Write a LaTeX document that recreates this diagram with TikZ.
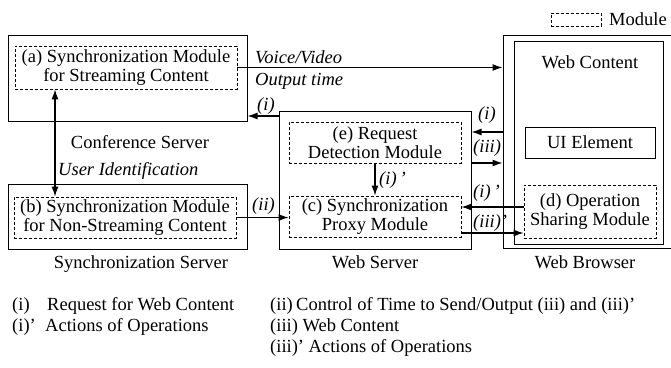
\documentclass[tikz,border=0pt]{standalone}
\usepackage{fontspec}
\setmainfont{Liberation Serif}
\newfontfamily\timesfont{Liberation Serif}
\usetikzlibrary{arrows.meta}
\newcommand{\basefont}{\timesfont\fontsize{18.5}{19.5}\selectfont}
\tikzset{
  solidbox/.style={draw, line width=1pt, inner sep=0pt},
  modbox/.style={draw, dash pattern=on 3pt off 2pt, line width=0.8pt, inner sep=0pt, align=center},
  arr/.style={-{Latex[length=10pt,width=7pt]}, line width=1.2pt},
  darr/.style={{Latex[length=10pt,width=7pt]}-{Latex[length=10pt,width=7pt]}, line width=1.2pt},
  lab/.style={font=\basefont\itshape, inner sep=0pt, anchor=base west},
  txt/.style={inner sep=0pt, anchor=base},
  leg/.style={inner sep=0pt, anchor=base west},
}
\begin{document}
\begin{tikzpicture}[x=1pt, y=-1pt, font=\basefont]
\useasboundingbox (0,0) rectangle (671,367);
% Conference server
\node[solidbox, minimum width=239pt, minimum height=86pt] (conf) at (127.5,78) {};
\node[modbox, minimum width=222pt, minimum height=43pt] (modA) at (126,67.5) {(a) Synchronization Module\\for Streaming Content};
\node[txt] (confl) at (140,148) {Conference Server};
% Synchronization server
\node[solidbox, minimum width=239pt, minimum height=65pt] (sync) at (127.5,216.5) {};
\node[modbox, minimum width=222pt, minimum height=41pt] (modB) at (125,217.5) {(b) Synchronization Module\\for Non-Streaming Content};
\node[txt] (syncl) at (141,268) {Synchronization Server};
% Web server
\node[solidbox, minimum width=192pt, minimum height=138pt] (websrv) at (375,180) {};
\node[modbox, minimum width=172pt, minimum height=41pt] (modE) at (375,142.5) {(e) Request\\Detection Module};
\node[modbox, minimum width=172pt, minimum height=41pt] (modC) at (375,216.5) {(c) Synchronization\\Proxy Module};
\node[txt] (websrvl) at (375,268) {Web Server};
% Web browser
\node[solidbox, minimum width=169pt, minimum height=213pt] (browser) at (587.5,141.5) {};
\node[draw, line width=0.9pt, inner sep=0pt, minimum width=149pt, minimum height=203pt] (content) at (588.5,142.5) {};
\node[txt] (contentl) at (590,68) {Web Content};
\node[solidbox, minimum width=130pt, minimum height=31pt] (ui) at (590,142.5) {UI Element};
\node[modbox, minimum width=132pt, minimum height=53pt] (modD) at (590,211.5) {(d) Operation\\Sharing Module};
\node[txt] (browserl) at (585,268) {Web Browser};
% Legend box
\node[modbox, minimum width=50pt, minimum height=13pt] (legbox) at (576,19.5) {};
\node[leg] (legtxt) at (609,25) {Module};
% coordinates for arrow heights
\coordinate (uid) at (55,0);
\coordinate (yia) at (0,116);
\coordinate (yi) at (0,132);
\coordinate (yiii) at (0,163);
\coordinate (yip) at (0,207);
\coordinate (yiiip) at (0,233);
% Arrows
\draw[arr] (modA.east) -- (modA.east -| browser.west);
\draw[arr] (websrv.west |- yia) -- (conf.east |- yia);
\draw[darr] (modA.south -| uid) -- (modB.north -| uid);
\draw[arr] (modB.east) -- (modB.east -| modC.west);
\draw[arr] (modE.south) -- (modC.north);
\draw[arr] (browser.west |- yi) -- (websrv.east |- yi);
\draw[arr] (websrv.east |- yiii) -- (browser.west |- yiii);
\draw[arr] (modD.west |- yip) -- (modC.east |- yip);
\draw[arr] (modC.east |- yiiip) -- (modD.west |- yiiip);
% Labels
\node[lab] (lvoice) at (255,63) {Voice/Video};
\node[lab] (lout) at (255,85) {Output time};
\node[lab] (li1) at (257,110) {(i)};
\node[lab] (luid) at (58,175) {User Identification};
\node[lab] (lii) at (252,210) {(ii)};
\node[lab] (li2) at (478,119) {(i)};
\node[lab] (liii) at (473,152) {(iii)};
\node[lab] (lip) at (473,197) {(i)\,’};
\node[lab] (liiip) at (473,227) {(iii)’};
\node[lab] (lip2) at (379,184) {(i)\,’};
% Bottom legend
\node[leg] (k1a) at (12,310) {(i)};
\node[leg] (k1b) at (47,310) {Request for Web Content};
\node[leg] (k2a) at (12,331) {(i)’};
\node[leg] (k2b) at (45,331) {Actions of Operations};
\node[leg] (k3a) at (270,310) {(ii)};
\node[leg] (k3b) at (296,310) {Control of Time to Send/Output (iii) and (iii)’};
\node[leg] (k4) at (270,331) {(iii) Web Content};
\node[leg] (k5) at (270,352) {(iii)’ Actions of Operations};
\end{tikzpicture}
\end{document}
